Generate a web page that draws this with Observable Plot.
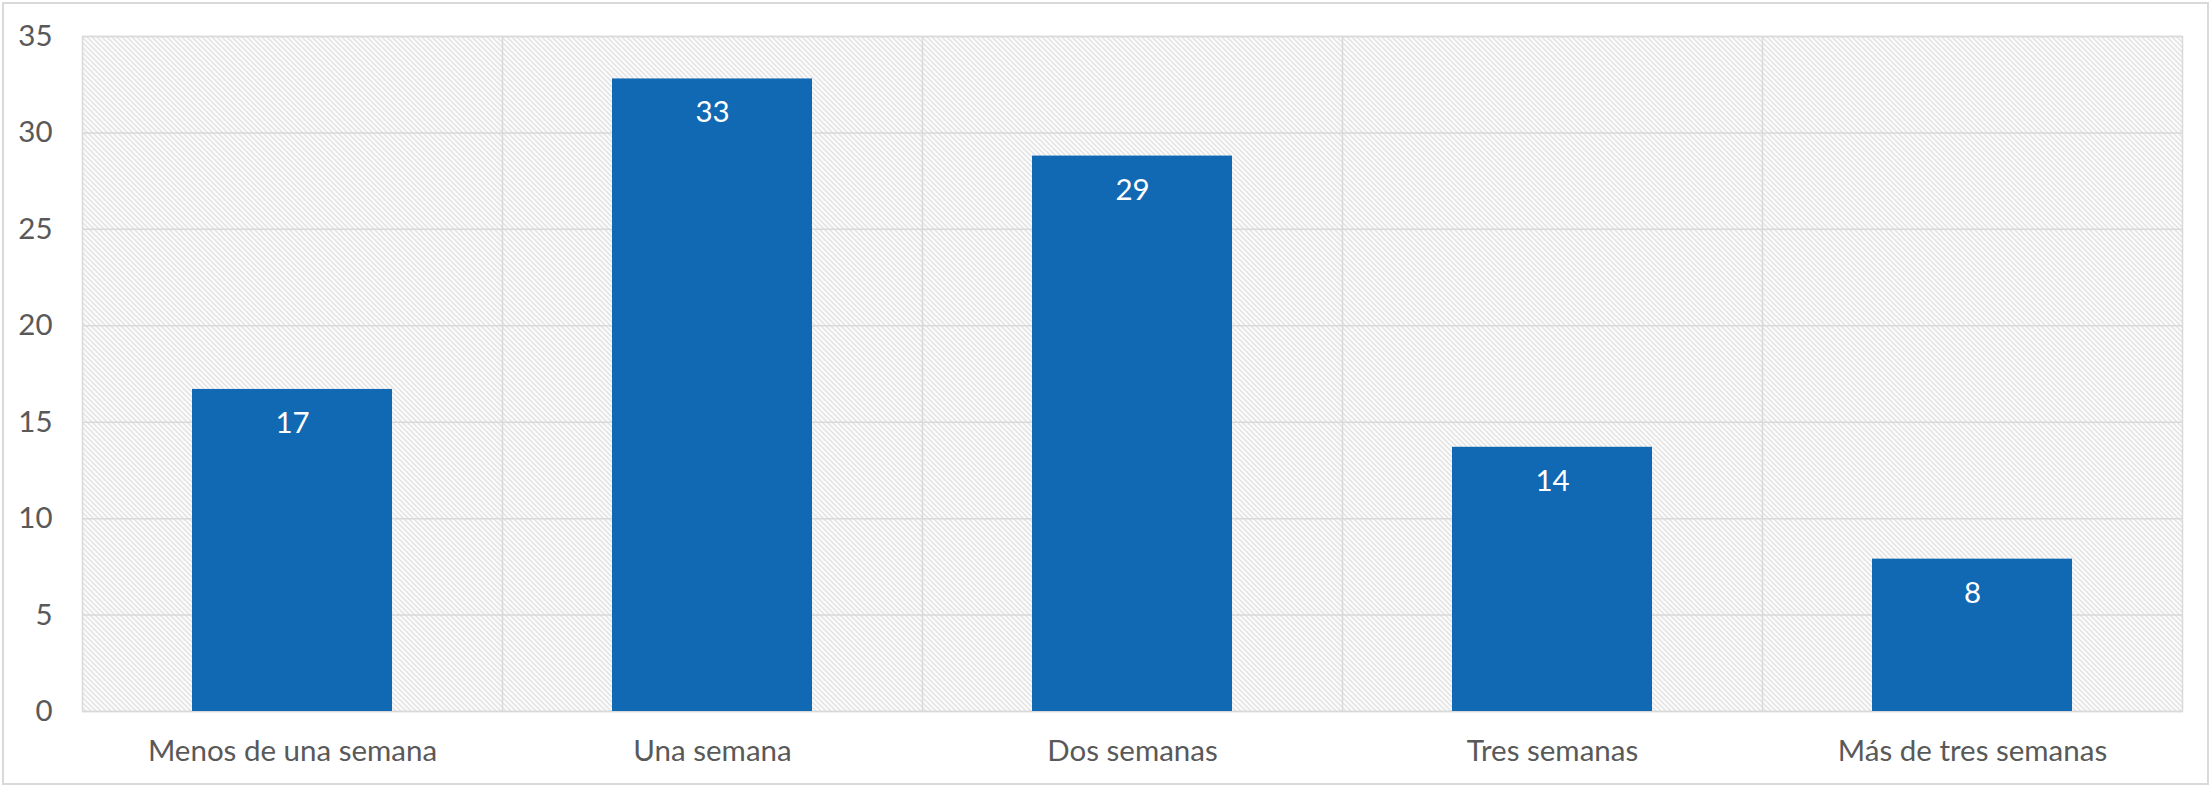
<!DOCTYPE html>
<html>
<head>
<meta charset="utf-8">
<script src="https://cdn.jsdelivr.net/npm/d3@7"></script>
<script src="https://cdn.jsdelivr.net/npm/@observablehq/plot@0.6"></script>
<style>
  html, body { margin: 0; padding: 0; background: #fff; }
  #chart svg { display: block; outline: 2px solid #d9d9d9; outline-offset: -4px; }
</style>
</head>
<body>
<div id="chart"></div>
<script>
const categories = ["Menos de una semana", "Una semana", "Dos semanas", "Tres semanas", "Más de tres semanas"];
const values = [16.7, 32.8, 28.8, 13.7, 7.9];
const labels = ["17", "33", "29", "14", "8"];
const yTicks = [0, 5, 10, 15, 20, 25, 30, 35];

const data = categories.map((c, i) => ({cat: c, value: values[i], label: labels[i]}));

const W = 2211, H = 787;
const mL = 82, mR = 29, mT = 36, mB = 76;
const step = (W - mL - mR) / categories.length;
const font = "Lato, 'Open Sans', sans-serif";
const fs = 29.5;

const plot = Plot.plot({
  width: W,
  height: H,
  marginLeft: mL,
  marginRight: mR,
  marginTop: mT,
  marginBottom: mB,
  style: {fontFamily: font, fontSize: fs + "px", color: "#595959", background: "#fff"},
  x: {domain: categories, paddingInner: 0.524, paddingOuter: 0.262, label: null},
  y: {domain: [0, 35], label: null},
  marks: [
    Plot.frame({fill: "url(#hatch)", stroke: "#d9d9d9", strokeWidth: 1.5}),
    Plot.gridY(yTicks, {stroke: "#d9d9d9", strokeOpacity: 1, strokeWidth: 1.5}),
    Plot.ruleX(categories.slice(0, -1), {dx: step / 2, stroke: "#d9d9d9", strokeWidth: 1.5}),
    Plot.axisY(yTicks, {tickSize: 0, tickPadding: 30, fontSize: fs, fill: "#595959"}),
    Plot.axisX({tickSize: 0, tickPadding: 29, fontSize: fs, fill: "#595959"}),
    Plot.barY(data, {x: "cat", y: "value", fill: "#1069B2"}),
    Plot.text(data, {x: "cat", y: "value", text: "label", dy: 34, fill: "#ffffff", fontSize: fs})
  ]
});

const svg = d3.select(plot);
const defs = svg.insert("defs", ":first-child");
const pat = defs.append("pattern")
  .attr("id", "hatch")
  .attr("patternUnits", "userSpaceOnUse")
  .attr("width", 5)
  .attr("height", 5);
pat.append("rect").attr("width", 5).attr("height", 5).attr("fill", "#ffffff");
pat.append("path")
  .attr("d", "M-1,-1 L6,6 M-1,4 L1,6 M4,-1 L6,1")
  .attr("stroke", "#d2d2d2")
  .attr("stroke-width", 1.1);

document.getElementById("chart").appendChild(plot);
</script>
</body>
</html>
